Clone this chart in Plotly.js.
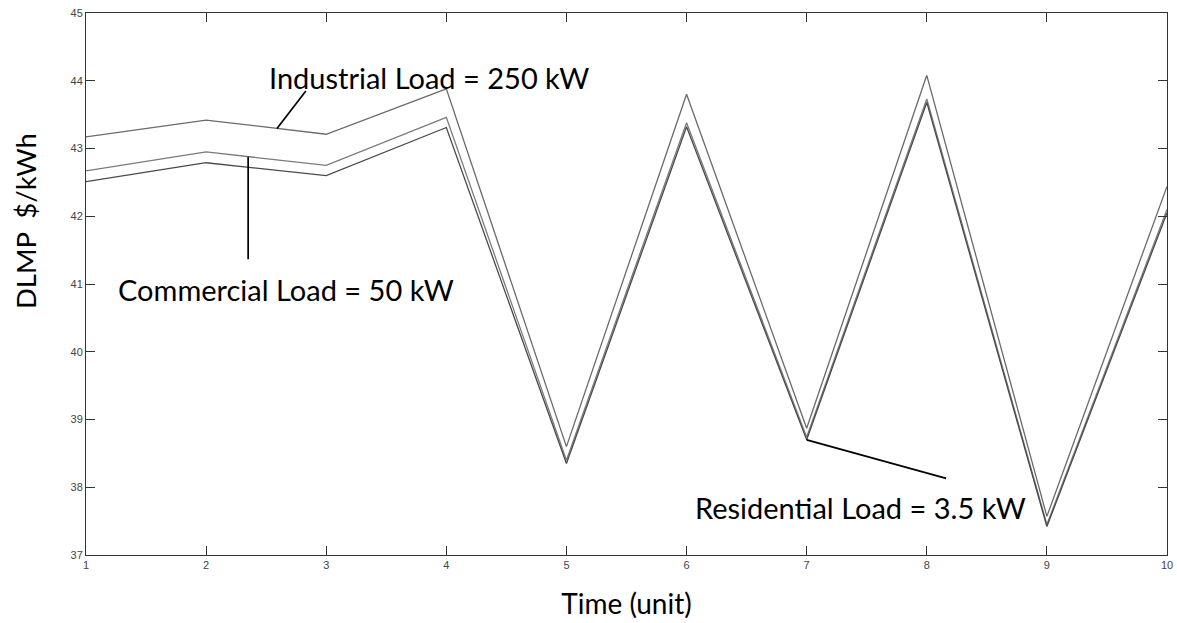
<!DOCTYPE html>
<html>
<head>
<meta charset="utf-8">
<script src="https://cdn.plot.ly/plotly-3.0.1.min.js"></script>
<style>
  html, body { margin: 0; padding: 0; background: #ffffff; }
  #chart { width: 1177px; height: 623px; }
</style>
</head>
<body>
<div id="chart"></div>
<script>
// Distribution locational marginal price per time step, three load types
const timeSteps = [1, 2, 3, 4, 5, 6, 7, 8, 9, 10];
const industrialDLMP  = [43.17, 43.42, 43.21, 43.88, 38.60, 43.80, 38.87, 44.08, 37.57, 42.44];
const commercialDLMP  = [42.67, 42.95, 42.75, 43.46, 38.40, 43.38, 38.74, 43.73, 37.45, 42.10];
const residentialDLMP = [42.51, 42.79, 42.60, 43.31, 38.35, 43.32, 38.70, 43.68, 37.42, 42.05];

const xTickValues = [1, 2, 3, 4, 5, 6, 7, 8, 9, 10];
const yTickValues = [37, 38, 39, 40, 41, 42, 43, 44, 45];

const industrialLabel  = 'Industrial Load = 250 kW';
const commercialLabel  = 'Commercial Load = 50 kW';
const residentialLabel = 'Residential Load = 3.5 kW';

// value of a series at a fractional time, following its straight segments
function valueAt(series, t) {
  const i = Math.min(Math.floor(t), timeSteps.length - 1) - 1;
  const f = t - timeSteps[i];
  return series[i] + f * (series[i + 1] - series[i]);
}

const labelFont = { family: 'Lato, "Open Sans", sans-serif', size: 29, color: '#000000' };

const traces = [
  { x: timeSteps, y: industrialDLMP,  mode: 'lines', name: industrialLabel,
    line: { color: '#6a6a6a', width: 1.3 } },
  { x: timeSteps, y: commercialDLMP,  mode: 'lines', name: commercialLabel,
    line: { color: '#7a7a7a', width: 1.3 } },
  { x: timeSteps, y: residentialDLMP, mode: 'lines', name: residentialLabel,
    line: { color: '#4a4a4a', width: 1.3 } }
];

const axisCommon = {
  showline: true, linecolor: '#333333', linewidth: 1,
  mirror: 'ticks', ticks: 'inside', ticklen: 9, tickwidth: 1, tickcolor: '#333333',
  showgrid: false, zeroline: false,
  tickfont: { family: '"Liberation Sans", Arial, sans-serif', size: 11, color: '#444444' }
};

const pointerStyle = { showarrow: true, arrowhead: 0, arrowwidth: 1.7, arrowcolor: '#000000',
  text: '', standoff: 0, startstandoff: 0, axref: 'pixel', ayref: 'pixel' };

const layout = {
  width: 1177, height: 623,
  margin: { l: 86, r: 10, t: 13, b: 68 },
  paper_bgcolor: '#ffffff', plot_bgcolor: '#ffffff',
  showlegend: false,
  xaxis: Object.assign({}, axisCommon, {
    range: [1, 10], tickmode: 'array', tickvals: xTickValues,
    title: { text: 'Time (unit)', font: { family: labelFont.family, size: 28, color: '#000000' }, standoff: 24 }
  }),
  yaxis: Object.assign({}, axisCommon, {
    range: [37, 45], tickmode: 'array', tickvals: yTickValues
  }),
  annotations: [
    // vertical axis label, set above the middle of the axis
    { text: 'DLMP  $/kWh', xref: 'paper', yref: 'paper', x: -0.0565, y: 0.616,
      textangle: -90, showarrow: false, xanchor: 'center', yanchor: 'middle',
      font: { family: labelFont.family, size: 27.5, color: '#000000' } },
    // series labels
    { text: industrialLabel, xref: 'paper', yref: 'paper', x: 0.1675, y: 0.881,
      xanchor: 'left', yanchor: 'middle', showarrow: false, font: labelFont },
    { text: commercialLabel, xref: 'paper', yref: 'paper', x: 0.028, y: 0.490,
      xanchor: 'left', yanchor: 'middle', showarrow: false, font: labelFont },
    { text: residentialLabel, xref: 'paper', yref: 'paper', x: 0.5617, y: 0.087,
      xanchor: 'left', yanchor: 'middle', showarrow: false, font: labelFont },
    // pointer lines from each label to its curve
    Object.assign({ x: 2.59, y: valueAt(industrialDLMP, 2.59), ax: 30, ay: -39 }, pointerStyle),
    Object.assign({ x: 2.35, y: valueAt(commercialDLMP, 2.35), ax: 0, ay: 104 }, pointerStyle),
    Object.assign({ x: 7, y: valueAt(residentialDLMP, 7), ax: 141, ay: 39 }, pointerStyle)
  ]
};

Plotly.newPlot('chart', traces, layout, { displayModeBar: false, staticPlot: true });
</script>
</body>
</html>
